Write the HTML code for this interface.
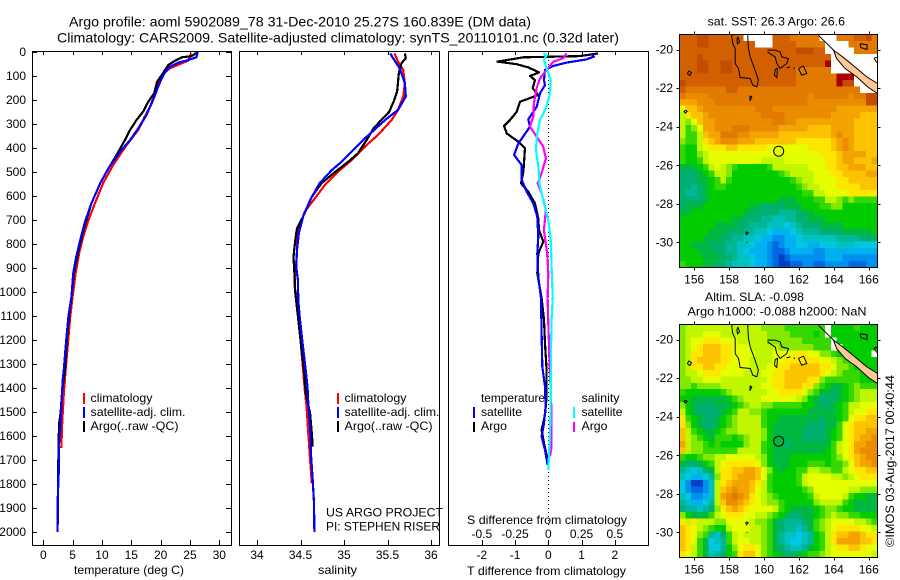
<!DOCTYPE html>
<html lang="en">
<head>
<meta charset="utf-8">
<title>Argo profile 5902089_78</title>
<style>
html,body{margin:0;padding:0;background:#fff;width:900px;height:580px;overflow:hidden}
svg{display:block;position:absolute;left:0;top:0}
text{font-family:"Liberation Sans",Arial,sans-serif;font-size:12px;fill:#000}
.ttl{font-size:14px}
</style>
</head>
<body>
<svg id="chart" xmlns="http://www.w3.org/2000/svg" width="900" height="580" viewBox="0 0 900 580">
  <text class="ttl" x="69" y="26.5" textLength="462" lengthAdjust="spacingAndGlyphs">Argo profile: aoml 5902089_78 31-Dec-2010 25.27S 160.839E (DM data)</text>
  <text class="ttl" x="57" y="42.5" textLength="562" lengthAdjust="spacingAndGlyphs">Climatology: CARS2009. Satellite-adjusted climatology: synTS_20110101.nc (0.32d later)</text>
  <g id="layer-heat"></g>
  <g id="layer-main"></g>

  <text x="74" y="574" textLength="110" lengthAdjust="spacingAndGlyphs">temperature (deg C)</text>
  <text x="318" y="574" textLength="39" lengthAdjust="spacingAndGlyphs">salinity</text>
  <text x="467" y="575" textLength="159" lengthAdjust="spacingAndGlyphs">T difference from climatology</text>
  <text x="467" y="524" textLength="160" lengthAdjust="spacingAndGlyphs">S difference from climatology</text>

  <g>
    <rect x="83" y="393" width="2" height="11" fill="#f00"/>
    <text x="90.5" y="402" textLength="62" lengthAdjust="spacingAndGlyphs">climatology</text>
    <rect x="83" y="407" width="2" height="11" fill="#00f"/>
    <text x="90.5" y="416" textLength="95" lengthAdjust="spacingAndGlyphs">satellite-adj. clim.</text>
    <rect x="83" y="421" width="2" height="11" fill="#000"/>
    <text x="90.5" y="430" textLength="88" lengthAdjust="spacingAndGlyphs">Argo(..raw -QC)</text>
  </g>
  <g>
    <rect x="337" y="393" width="2" height="11" fill="#f00"/>
    <text x="344.5" y="402" textLength="62" lengthAdjust="spacingAndGlyphs">climatology</text>
    <rect x="337" y="407" width="2" height="11" fill="#00f"/>
    <text x="344.5" y="416" textLength="95" lengthAdjust="spacingAndGlyphs">satellite-adj. clim.</text>
    <rect x="337" y="421" width="2" height="11" fill="#000"/>
    <text x="344.5" y="430" textLength="88" lengthAdjust="spacingAndGlyphs">Argo(..raw -QC)</text>
  </g>
  <text x="326" y="516.5" textLength="117" lengthAdjust="spacingAndGlyphs">US ARGO PROJECT</text>
  <text x="326" y="530.5" textLength="114" lengthAdjust="spacingAndGlyphs">PI: STEPHEN RISER</text>
  <g>
    <text x="481" y="402" textLength="64" lengthAdjust="spacingAndGlyphs">temperature</text>
    <rect x="473" y="407" width="2" height="11" fill="#00f"/>
    <text x="481" y="416" textLength="41" lengthAdjust="spacingAndGlyphs">satellite</text>
    <rect x="473" y="422" width="2" height="10" fill="#000"/>
    <text x="481" y="430" textLength="26" lengthAdjust="spacingAndGlyphs">Argo</text>
    <text x="581.5" y="402" textLength="38" lengthAdjust="spacingAndGlyphs">salinity</text>
    <rect x="573" y="407" width="2" height="11" fill="#0ff"/>
    <text x="581.5" y="416" textLength="41" lengthAdjust="spacingAndGlyphs">satellite</text>
    <rect x="573" y="422" width="2" height="10" fill="#f0f"/>
    <text x="581.5" y="430" textLength="26" lengthAdjust="spacingAndGlyphs">Argo</text>
  </g>
  <text x="707.5" y="25.5" textLength="137.5" lengthAdjust="spacingAndGlyphs">sat. SST: 26.3 Argo: 26.6</text>
  <text x="705" y="301" textLength="99" lengthAdjust="spacingAndGlyphs">Altim. SLA: -0.098</text>
  <text x="687.5" y="315.3" textLength="179" lengthAdjust="spacingAndGlyphs">Argo h1000: -0.088 h2000: NaN</text>
  <text transform="translate(894 547) rotate(-90)" x="0" y="0" textLength="172" lengthAdjust="spacingAndGlyphs">©IMOS 03-Aug-2017 00:40:44</text>
</svg>
<script>
// ---------- Profile data (depth in m) ----------
const depthTicks = [0,100,200,300,400,500,600,700,800,900,1000,1100,1200,1300,1400,1500,1600,1700,1800,1900,2000];
const tempTicks = [0,5,10,15,20,25,30];
const salTicks = [34,34.5,35,35.5,36];
const salTickLabels = ['34','34.5','35','35.5','36'];
const tDiffTicks = [-2,-1,0,1,2];
const sDiffTicks = [-0.5,-0.25,0,0.25,0.5];
const sDiffTickLabels = ['-0.5','-0.25','0','0.25','0.5'];

const tempClimDepth = [6,36,50,68,89,131,165,214,269,325,388,471,547,631,700,769,839,922,1019,1100,1200,1325,1422,1554,1651];
const tempClimVal = [25.2,24.7,23.3,21.6,20.5,19.6,19.3,18.5,17.3,16.2,14.2,11.9,10.2,8.8,7.7,6.8,6.1,5.5,5.0,4.6,4.25,3.8,3.5,3.2,3.07];
const tempSatDepth = [0,22,36,44,61,89,131,179,262,318,367,415,485,547,631,707,783,853,922,1019,1100,1200,1325,1367,1464,1547,1630,1714,1797,1880,2000];
const tempSatVal = [26.3,26.1,24.4,23,21.6,20.6,19.8,19,17.6,16.2,14.8,13.1,11.1,9.7,8.2,7.1,6.3,5.6,5.1,4.8,4.3,3.9,3.5,3.3,3.1,2.95,2.7,2.7,2.56,2.44,2.44];
const tempArgoDepth = [0,17,22,36,54,96,124,172,207,249,283,325,367,429,485,547,631,728,825,922,1019,1100,1200,1325,1415,1505,1547,1630,1797,2000];
const tempArgoVal = [26.3,25.3,23.6,22.5,21.3,20.2,19.4,18.9,17.9,17,15.9,14.8,13.9,12.5,11.1,9.7,8.2,7,6,5.2,4.8,4.4,4,3.7,3.2,2.95,2.7,2.6,2.5,2.44];

const salClimDepth = [6,40,75,131,186,242,283,346,394,450,499,554,617,665,728,769,839,922,971,1033,1100,1200,1325,1408,1478,1589,1700,1797];
const salClimVal = [35.58,35.62,35.68,35.70,35.68,35.62,35.55,35.39,35.24,35.09,34.93,34.78,34.65,34.55,34.49,34.46,34.46,34.44,34.43,34.46,34.47,34.5,34.53,34.55,34.57,34.59,34.61,34.63];
const salArgoDepth = [6,26,47,89,131,165,207,249,283,318,367,422,457,499,547,603,686,735,783,853,922,1005,1100,1200,1325,1422,1505,1589,1644];
const salArgoVal = [35.70,35.71,35.66,35.63,35.62,35.61,35.57,35.52,35.43,35.34,35.26,35.16,35.05,34.9,34.74,34.63,34.53,34.46,34.44,34.42,34.43,34.44,34.47,34.5,34.54,34.56,34.61,34.63,34.64];
const salSatDepth = [6,40,68,131,186,242,272,297,367,415,464,492,547,617,686,756,825,894,950,1033,1100,1200,1325,1394,1464,1561,1672,1783,1880,2000];
const salSatVal = [35.53,35.59,35.64,35.70,35.71,35.62,35.51,35.43,35.22,35.09,34.95,34.86,34.72,34.61,34.53,34.48,34.46,34.45,34.47,34.475,34.49,34.52,34.56,34.58,34.59,34.61,34.62,34.64,34.655,34.66];

const tDiffArgoDepth = [6,17,22,40,51,64,85,100,117,151,179,197,207,249,283,308,339,374,401,499,547,582,631,693,742,790,839,922,1026,1116,1214,1325,1436,1512,1575,1630,1693];
const tDiffArgoVal = [1.5,0.95,-0.75,-1.53,-0.95,-0.6,-0.28,-0.55,-0.4,-0.47,-0.3,-0.65,-0.85,-0.95,-1.15,-1.33,-1.25,-0.9,-0.7,-0.75,-0.82,-0.6,-0.4,-0.3,-0.28,-0.15,-0.3,-0.33,-0.2,-0.13,-0.1,-0.05,-0.05,-0.1,-0.2,-0.13,-0.03];
const tDiffSatDepth = [8,19,31,44,58,75,117,138,172,228,281,311,381,429,471,533,582,631,686,769,839,936,1026,1172,1311,1394,1477,1547,1602,1658,1720];
const tDiffSatVal = [1.3,1.37,1.15,0.55,0.15,-0.1,-0.13,-0.1,-0.25,-0.35,-0.6,-0.55,-0.9,-1.03,-0.8,-0.8,-0.65,-0.45,-0.33,-0.3,-0.33,-0.3,-0.22,-0.2,-0.18,-0.1,-0.08,-0.13,-0.2,-0.1,-0.02];
const sDiffArgoDepth = [6,26,40,75,110,151,214,269,311,353,394,443,505,547,589,658,742,839,922,1026,1130,1300,1512,1644,1686];
const sDiffArgoVal = [0.138,0.113,0.038,-0.013,-0.063,-0.088,-0.108,-0.113,-0.138,-0.088,-0.038,-0.018,-0.05,-0.08,-0.05,-0.018,-0.033,-0.008,0,-0.005,0,0.01,0.025,0.025,0.013];
const sDiffSatDepth = [6,12,33,75,117,172,235,283,339,408,485,547,617,700,783,894,1026,1116,1241,1450,1589,1741];
const sDiffSatVal = [-0.038,-0.013,-0.033,-0.008,0.018,0.013,-0.018,-0.063,-0.083,-0.093,-0.073,-0.068,-0.038,0,0.018,0.025,0.033,0.025,0.02,0.018,0.013,0];

// ---------- Map data: each character is a colour level (base 36), w = no data ----------
const levelColors = ['#a80000','#c44c00','#d26000','#e07a00','#ea8c00','#f4a400','#fcc400','#ffe600','#e6ff00','#c0f600','#84e800','#34d800','#00cc00','#00b840','#00b070','#00b898','#00c0c0','#00c8e0','#00b0f0','#0090f0','#0068e0','#0040c8'];
const sstRows = [
"2221122222 2wwwww2223 3333www333 2213",
"2221122222 222www2222 33333wwww3 3333",
"2222222222 2222222222 11122wwwww 3333",
"2221222222 2222222222 222222wwww wwww",
"2221122112 2222222222 222220wwww wwww",
"2221122112 2222222222 333333wwww wwww",
"2222222222 2222222222 3333333000 wwww",
"1222222222 2222222222 3333333011 wwww",
"2333333322 3333333333 3333333333 3www",
"3444433333 3333333333 3343333334 3311",
"5554443333 3333333333 3344444444 4411",
"8665444444 4443334444 4444444555 5555",
"9766544444 4444333344 4444445555 5666",
"9a86554444 4444443344 5555555555 6666",
"9ba8554443 3344444555 5566665555 6666",
"9bb9655333 4455555666 6666665455 6666",
"abb9765444 5556666666 7777776545 6666",
"bcc9877766 7777788888 8877776545 6666",
"bcca988888 8888888888 8888777655 5566",
"bccb988888 8888999988 8888877655 6665",
"dddcb989ab cccccb9999 9988877665 5566",
"eeedcb99ac cccccccba9 9998887766 6655",
"eeeddcb9bc cccccccccb a998888776 6666",
"eefedcbbcc cccccccccc ba99888777 7666",
"effedccccc cccccccccc cbb9988887 7777",
"eeeedccccc cccccccddd cccbb99aba bbbb",
"edddcccccc ccddeeeedd dcccbbaacc cccc",
"ddcccccccc cdeeeeefff eddccccccc cccc",
"cccccccccd deeeffggff eedddccccc cccc",
"ccccccdddd eefffggghg feeeddddcc cccc",
"cccccdddee effgghiiih gfffeeeedd dddc",
"ccccdddeef fgghiijjii hggggggfff feee",
"ccdddeeeff gghiijkjii hhiihhhggg hhhh",
"cccdddeeff ghiiijkkji iiijjiiiii iiii",
"ccccdddeef gghiijklkj jjjjjiiijj jjjj",
"bcccddeefg gghiijkllk kjjkkjjjjk kkjj"
];
const slaRows = [
"a999999999 9999aaaabb bbbbbwcccc bccc",
"a999888999 99999aaaab bbbcbwcccc cccc",
"a988777888 99999aaaaa abbbbbwccc cccc",
"a987666778 8899999aaa aaabbbwwcc cccc",
"a977666778 8889998888 7788aabccc cccw",
"a976666778 8899998877 7777889abc cccc",
"a977667788 8899988776 6666778aab cccc",
"a998777888 8999887766 6666789abb bccc",
"aa99888999 9999987766 6677abbbbb bccc",
"aabaaaa999 9999887766 677abcddcb abbb",
"bccccccba9 9999988777 78abddedcb a999",
"ccddddddcb a999888888 9acdeeedcb a999",
"acdeeedddc ba99aabbbb bccdeedcb9 9888",
"9cdeeeedcb 99aabccccc ccdddddcb9 8877",
"7bcdeedcba 9999bccddd ddddeddcb8 7766",
"7acdeedcba 9999bcdddd ddeeeddb87 6666",
"69bcddcbaa 9999acdddd deeeedcb87 6655",
"69abcdbbbc ba99acdddd deeeedcb87 6554",
"59aabcbccc ca99bcdded ddddddb987 5544",
"69aabbbbbb 9999bcdddd dddddcb987 5444",
"bccbaa9988 8889acdddc ccccccba87 6544",
"deedcb9877 7778acdddc ccbbbcbba8 6554",
"fghged9776 65568acdcc bb99aabb98 7766",
"ghiihfa776 55568bcccc b9888899a9 8777",
"hjlljg9765 55679bcccc b988888888 8888",
"hjkkjg9654 55689bcccc cba8888889 9aaa",
"ghjjig9543 45789abccc ccb988889b ccdd",
"fgiihf9644 56789aabcc ccca9999bc dddd",
"effgfea765 6788889bcd dddcbaabcc dddd",
"acdddb9877 78899abcde eddcba9aab bccc",
"797999aa88 889aabdeff fedba98888 99ab",
"6789abcc98 8899abdeff gfdba98777 7889",
"678abfgeb9 8999abdfgg hgfcb97665 5677",
"678bdhgfb9 8899abdfgh hgfcb97555 5667",
"679bdhhfca 8778abdefg gfdcb98776 6788",
"789bdgfecb 7668abcdee dcbba98888 8889"
];
const mapLonStart = 155.16;
const mapLonEnd = 166.5;
const mapLatStart = -19.22;
const mapLatEnd = -31.3;
const lonTicks = [156,158,160,162,164,166];
const latTicks = [-20,-22,-24,-26,-28,-30];
const argoLon = 160.84;
const argoLat = -25.27;
const reefOutlines = [
 [[158.16,-19.22],[158.16,-19.38],[158.21,-19.69],[158.35,-19.95],[158.35,-20.73],[158.54,-20.98],[158.63,-21.45],[159.21,-21.5],[159.36,-21.85],[159.59,-21.93],[159.68,-21.59],[159.49,-21.07],[159.21,-20.38],[159.11,-19.95],[159.07,-19.38],[159.07,-19.22]],
 [[158.5,-19.35],[158.6,-19.6],[158.48,-19.7],[158.45,-19.5],[158.5,-19.35]],
 [[160.2,-20.03],[160.64,-20.03],[160.92,-20.12],[161.02,-20.38],[161.4,-20.47],[161.3,-20.73],[160.92,-20.98],[160.73,-20.73],[160.64,-20.38],[160.2,-20.12]],
 [[160.64,-21.04],[160.77,-20.98],[160.73,-21.45],[160.6,-21.33],[160.64,-21.04]],
 [[161.3,-20.95],[161.5,-20.9]],
 [[161.7,-20.93],[161.76,-21.0]],
 [[161.97,-20.98],[162.26,-20.86],[162.45,-21.24],[162.16,-21.33],[161.97,-20.98]],
 [[155.68,-21.1],[155.85,-21.2],[155.75,-21.35],[155.62,-21.25],[155.68,-21.1]],
 [[159.2,-22.4],[159.3,-22.45],[159.2,-22.65],[159.2,-22.4]],
 [[155.5,-23.15],[155.6,-23.2],[155.5,-23.3],[155.42,-23.2],[155.5,-23.15]],
 [[159.0,-29.45],[159.1,-29.5],[159.0,-29.6],[158.95,-29.5],[159.0,-29.45]],
 [[159.0,-30.0],[159.05,-30.0]],
 [[165.5,-19.7],[165.9,-19.75],[165.9,-20.0],[165.55,-19.9],[165.5,-19.7]],
 [[166.3,-20.45],[166.5,-20.4],[166.5,-20.7],[166.4,-20.6],[166.3,-20.45]],
 [[163.12,-19.26],[163.98,-20.03]]
];
const newCaledonia = [[163.98,-20.03],[164.26,-20.21],[164.74,-20.55],[165.31,-20.98],[165.89,-21.42],[166.5,-21.76],[166.5,-22.28],[165.98,-21.97],[165.31,-21.42],[164.64,-20.98],[164.16,-20.47]];

// ---------- Drawing ----------
const NS = 'http://www.w3.org/2000/svg';
const mainLayer = document.getElementById('layer-main');
const heatLayer = document.getElementById('layer-heat');

function svgEl(tag, parent, name, interact) {
  const el = document.createElementNS(NS, tag);
  
  
  parent.appendChild(el);
  return el;
}
function tickLine(parent, name, x1, y1, x2, y2) {
  const l = svgEl('line', parent, name);
  l.setAttribute('x1', x1);
  l.setAttribute('y1', y1);
  l.setAttribute('x2', x2);
  l.setAttribute('y2', y2);
  l.setAttribute('stroke', '#000');
  l.setAttribute('stroke-width', 1);
  l.setAttribute('shape-rendering', 'crispEdges');
}
function label(parent, name, str, x, y, anchor) {
  const t = svgEl('text', parent, name);
  t.setAttribute('x', x);
  t.setAttribute('y', y);
  t.setAttribute('text-anchor', anchor);
  t.textContent = str;
}
function box(parent, name, x0, y0, x1, y1) {
  const r = svgEl('rect', parent, name);
  r.setAttribute('x', x0);
  r.setAttribute('y', y0);
  r.setAttribute('width', x1 - x0);
  r.setAttribute('height', y1 - y0);
  r.setAttribute('fill', 'none');
  r.setAttribute('stroke', '#000');
  r.setAttribute('stroke-width', 1);
  r.setAttribute('shape-rendering', 'crispEdges');
}

// depth axis shared by all three profile panels
const panelTop = 51.5, panelBottom = 545.5;
const lineWidth = 2.2;
function yDepth(d) { return 52 + 0.24 * d; }
function xTemp(t) { return 43.3 + 5.867 * t; }
function xSal(s) { return 257 + 87 * (s - 34); }
function xTDiff(t) { return 548.3 + 33.25 * t; }
function xSDiff(s) { return 548.3 + 133 * s; }

function series(parent, name, xs, ds, xFn, color) {
  const p = svgEl('polyline', parent, name);
  p.setAttribute('points', ds.map((d, i) => xFn(xs[i]).toFixed(1) + ',' + yDepth(d).toFixed(1)).join(' '));
  p.setAttribute('fill', 'none');
  p.setAttribute('stroke', color);
  p.setAttribute('stroke-width', lineWidth);
  p.setAttribute('stroke-linejoin', 'round');
  p.setAttribute('shape-rendering', 'crispEdges');
}

// panel 1: temperature
const p1 = svgEl('g', mainLayer, 'temperature-panel');
depthTicks.forEach(d => {
  tickLine(p1, 'depth-tick-left', 32, Math.round(yDepth(d)) + .5, 37, Math.round(yDepth(d)) + .5);
  tickLine(p1, 'depth-tick-right', 226, Math.round(yDepth(d)) + .5, 231, Math.round(yDepth(d)) + .5);
  label(p1, 'depth-tick-label', String(d), 26, yDepth(d) + 4, 'end');
});
tempTicks.forEach(t => {
  const x = Math.round(xTemp(t)) + .5;
  tickLine(p1, 'temperature-tick-top', x, 52, x, 55);
  tickLine(p1, 'temperature-tick-bottom', x, 540, x, 545);
  label(p1, 'temperature-tick-label', String(t), xTemp(t), 559, 'middle');
});
series(p1, 'temperature-climatology-line', tempClimVal, tempClimDepth, xTemp, '#f00');
series(p1, 'temperature-argo-line', tempArgoVal, tempArgoDepth, xTemp, '#000');
series(p1, 'temperature-satellite-line', tempSatVal, tempSatDepth, xTemp, '#00f');
box(p1, 'temperature-panel-frame', 32.5, panelTop, 231.5, panelBottom);

// panel 2: salinity
const p2 = svgEl('g', mainLayer, 'salinity-panel');
salTicks.forEach((s, i) => {
  const x = Math.round(xSal(s)) + .5;
  tickLine(p2, 'salinity-tick-top', x, 52, x, 55);
  tickLine(p2, 'salinity-tick-bottom', x, 540, x, 545);
  label(p2, 'salinity-tick-label', salTickLabels[i], xSal(s), 559, 'middle');
});
series(p2, 'salinity-climatology-line', salClimVal, salClimDepth, xSal, '#f00');
series(p2, 'salinity-argo-line', salArgoVal, salArgoDepth, xSal, '#000');
series(p2, 'salinity-satellite-line', salSatVal, salSatDepth, xSal, '#00f');
box(p2, 'salinity-panel-frame', 239.5, panelTop, 439.5, panelBottom);

// panel 3: differences
const p3 = svgEl('g', mainLayer, 'difference-panel');
tDiffTicks.forEach(t => {
  const x = Math.round(xTDiff(t)) + .5;
  tickLine(p3, 'difference-tick-top', x, 52, x, 55);
  tickLine(p3, 'difference-tick-bottom', x, 540, x, 545);
  label(p3, 'difference-t-tick-label', String(t), xTDiff(t), 559, 'middle');
});
sDiffTicks.forEach((s, i) => {
  label(p3, 'difference-s-tick-label', sDiffTickLabels[i], xSDiff(s), 538, 'middle');
});
const zero = svgEl('line', p3, 'zero-difference-line');
zero.setAttribute('x1', 548.5);
zero.setAttribute('x2', 548.5);
zero.setAttribute('y1', 52);
zero.setAttribute('y2', 528);
zero.setAttribute('stroke', '#000');
zero.setAttribute('stroke-width', 1);
zero.setAttribute('stroke-dasharray', '1 3');
zero.setAttribute('shape-rendering', 'crispEdges');
series(p3, 't-difference-argo-line', tDiffArgoVal, tDiffArgoDepth, xTDiff, '#000');
series(p3, 't-difference-satellite-line', tDiffSatVal, tDiffSatDepth, xTDiff, '#00f');
series(p3, 's-difference-argo-line', sDiffArgoVal, sDiffArgoDepth, xSDiff, '#f0f');
series(p3, 's-difference-satellite-line', sDiffSatVal, sDiffSatDepth, xSDiff, '#0ff');
box(p3, 'difference-panel-frame', 448.5, panelTop, 648.5, panelBottom);

// maps
function drawMap(name, groupedRows, top) {
  const rows = groupedRows.map(r => r.replace(/ /g, ''));
  const left = 679.5, right = 877.5, height = 233;
  const bottom = top + height;
  const xLon = lon => left + (lon - mapLonStart) / (mapLonEnd - mapLonStart) * (right - left);
  const yLat = lat => top + (lat - mapLatStart) / (mapLatEnd - mapLatStart) * height;
  const g = svgEl('g', heatLayer, name + '-map');
  const lonStep = (mapLonEnd - mapLonStart) / rows[0].length;
  const latStep = (mapLatEnd - mapLatStart) / rows.length;
  rows.forEach((row, j) => {
    [...row].forEach((ch, i) => {
      const level = parseInt(ch, 36);
      const x0 = xLon(mapLonStart + i * lonStep);
      const x1 = xLon(mapLonStart + (i + 1) * lonStep);
      const y0 = yLat(mapLatStart + j * latStep);
      const y1 = yLat(mapLatStart + (j + 1) * latStep);
      const c = svgEl('rect', g, name + '-cell');
      c.setAttribute('x', x0.toFixed(2));
      c.setAttribute('y', y0.toFixed(2));
      c.setAttribute('width', (x1 - x0 + .4).toFixed(2));
      c.setAttribute('height', (y1 - y0 + .4).toFixed(2));
      c.setAttribute('fill', levelColors[level] || '#fff');
      c.setAttribute('shape-rendering', 'crispEdges');
    });
  });
  const land = svgEl('polygon', g, 'new-caledonia-land');
  land.setAttribute('points', newCaledonia.map(p => xLon(p[0]).toFixed(1) + ',' + yLat(p[1]).toFixed(1)).join(' '));
  land.setAttribute('fill', '#ffc896');
  land.setAttribute('stroke', '#000');
  land.setAttribute('stroke-width', 1);
  reefOutlines.forEach(o => {
    const l = svgEl('polyline', g, 'coastline');
    l.setAttribute('points', o.map(p => xLon(p[0]).toFixed(1) + ',' + yLat(p[1]).toFixed(1)).join(' '));
    l.setAttribute('fill', 'none');
    l.setAttribute('stroke', '#000');
    l.setAttribute('stroke-width', 1);
  });
  const marker = svgEl('circle', g, 'argo-position-marker');
  marker.setAttribute('cx', xLon(argoLon));
  marker.setAttribute('cy', yLat(argoLat));
  marker.setAttribute('r', 5);
  marker.setAttribute('fill', 'none');
  marker.setAttribute('stroke', '#000');
  marker.setAttribute('stroke-width', 1);
  lonTicks.forEach(lon => {
    const x = Math.round(xLon(lon)) + .5;
    tickLine(g, 'longitude-tick-top', x, top - 3, x, top);
    tickLine(g, 'longitude-tick-bottom', x, bottom, x, bottom + 3);
    label(g, 'longitude-tick-label', String(lon), xLon(lon), bottom + 16, 'middle');
  });
  latTicks.forEach(lat => {
    const y = Math.round(yLat(lat)) + .5;
    tickLine(g, 'latitude-tick-left', left - 3, y, left, y);
    tickLine(g, 'latitude-tick-right', right, y, right + 3, y);
    label(g, 'latitude-tick-label', String(lat), 673, yLat(lat) + 4, 'end');
  });
  box(g, name + '-map-frame', left, top, right, bottom);
}
drawMap('sst', sstRows, 34.5);
drawMap('sla', slaRows, 324.5);
</script>
</body>
</html>
